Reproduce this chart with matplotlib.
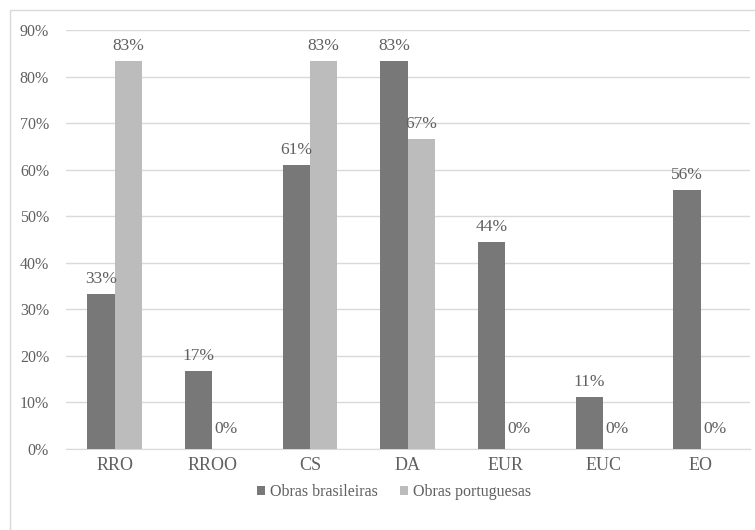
import matplotlib
matplotlib.use("Agg")
import matplotlib.pyplot as plt
import numpy as np
from matplotlib.patches import Rectangle

categories = ["RRO", "RROO", "CS", "DA", "EUR", "EUC", "EO"]
obras_brasileiras = [33.3, 16.7, 61.1, 83.3, 44.4, 11.1, 55.6]
obras_portuguesas = [83.3, 0.0, 83.3, 66.7, 0.0, 0.0, 0.0]
y_ticks = [0, 10, 20, 30, 40, 50, 60, 70, 80, 90]

plt.rcParams["font.family"] = ["Liberation Serif", "DejaVu Serif"]

fig = plt.figure(figsize=(7.55, 5.3), dpi=100)
ax = fig.add_axes([0.087, 0.153, 0.906, 0.79])

# light frame around the chart area (runs off the bottom and right edges)
fig.patches.append(Rectangle((0.013, -0.1), 1.2, 1.081, transform=fig.transFigure,
                             fill=False, edgecolor="#d9d9d9", linewidth=1.0))

x = np.arange(len(categories))
w = 0.28
dark = "#787878"
light = "#bcbcbc"
text_col = "#606060"

b1 = ax.bar(x - w / 2, obras_brasileiras, w, color=dark, label="Obras brasileiras", zorder=3)
b2 = ax.bar(x + w / 2, obras_portuguesas, w, color=light, label="Obras portuguesas", zorder=3)

for bars, vals in ((b1, obras_brasileiras), (b2, obras_portuguesas)):
    for rect, v in zip(bars, vals):
        ax.text(rect.get_x() + rect.get_width() / 2, v + 1.5 if v > 0 else 2.5,
                f"{round(v):.0f}%", ha="center", va="bottom",
                fontsize=12.5, color=text_col)

ax.set_xlim(-0.5, len(categories) - 0.5)
ax.set_ylim(0, 90)
ax.set_yticks(y_ticks)
ax.set_yticklabels([f"{t}%" for t in y_ticks], fontsize=11.5, color=text_col)
ax.set_xticks(x)
ax.set_xticklabels(categories, fontsize=13, color=text_col)
ax.tick_params(axis="x", length=0, pad=6)
ax.tick_params(axis="y", length=0, pad=12)

ax.yaxis.grid(True, color="#d9d9d9", linewidth=1.0, zorder=0)
for s in ("top", "right", "left"):
    ax.spines[s].set_visible(False)
ax.spines["bottom"].set_color("#d9d9d9")

leg = ax.legend(loc="center", bbox_to_anchor=(0.48, -0.103), ncol=2, frameon=False,
                fontsize=11.5, handlelength=0.5, handleheight=0.5, handletextpad=0.3,
                columnspacing=1.4)
for t in leg.get_texts():
    t.set_color(text_col)

fig.savefig("out.png", dpi=100)
